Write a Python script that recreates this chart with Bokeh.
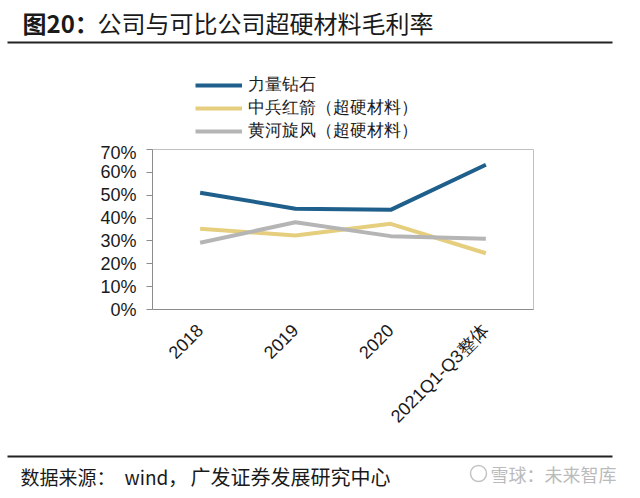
import math
from bokeh.plotting import figure
from bokeh.models import (Range1d, FactorRange, NumeralTickFormatter, FixedTicker,
                          Legend, LegendItem, ColumnDataSource)
from bokeh.layouts import column
from bokeh.core.properties import value
from bokeh.embed import file_html
from bokeh.resources import INLINE

# ---------------- data ----------------
categories = ["2018", "2019", "2020", "2021Q1-Q3整体"]
series_names = ["力量钻石", "中兵红箭（超硬材料）", "黄河旋风（超硬材料）"]
liliang = [0.511, 0.441, 0.436, 0.633]
zhongbing = [0.353, 0.324, 0.375, 0.246]
huanghe = [0.292, 0.382, 0.321, 0.309]
y_ticks = [0.0, 0.1, 0.2, 0.3, 0.4, 0.5, 0.6, 0.7]

title_bold = "图20："
title_rest = "公司与可比公司超硬材料毛利率"
source_a = "数据来源："
source_w = "wind，"
source_b = "广发证券发展研究中心"
watermark = "雪球：未来智库"

colors = ["#1F5F8B", "#E5CF7E", "#B5B5B5"]
CJK = "Noto Sans CJK SC"
LAT = "Liberation Sans"
W = 640


def no_align(fig):
    try:
        fig.frame_align = False
    except Exception:
        pass


def blank(h):
    f = figure(width=W, height=h, x_range=Range1d(0, W), y_range=Range1d(h, 0),
               output_backend="svg", toolbar_location=None, min_border=0,
               x_axis_type=None, y_axis_type=None, outline_line_color=None)
    f.grid.visible = False
    no_align(f)
    return f


# ---------------- header: title, rule, legend ----------------
HH = 142
hdr = blank(HH)
hdr.text(x=[22], y=[22], text=[title_bold], text_font=value(CJK), text_font_style="bold",
         text_font_size="24px", text_baseline="middle", text_align="left", text_color="#1a1a1a")
hdr.text(x=[97], y=[22], text=[title_rest], text_font=value(CJK),
         text_font_size="24px", text_baseline="middle", text_align="left", text_color="#1a1a1a")
hdr.segment(x0=[7], y0=[42], x1=[612], y1=[42], line_color="#222222", line_width=2)

# legend proxies (kept outside the visible range, only their style is used by the legend)
proxies = [hdr.line(x=[-200, -150], y=[-200, -200], line_color=c, line_width=4) for c in colors]
legend = Legend(items=[LegendItem(label=n, renderers=[r]) for n, r in zip(series_names, proxies)],
                location=(195, 0), orientation="vertical",
                background_fill_alpha=0, border_line_color=None,
                glyph_width=47, glyph_height=20, label_height=20, spacing=0,
                padding=0, margin=0, label_standoff=6,
                label_text_font=LAT, label_text_font_size="17px", label_text_color="#1a1a1a")
hdr.add_layout(legend)

# ---------------- chart ----------------
CH = 308
src = ColumnDataSource(dict(cat=categories, a=liliang, b=zhongbing, c=huanghe))
p = figure(width=W, height=CH, x_range=FactorRange(*categories), y_range=Range1d(0, 0.7),
           output_backend="svg", toolbar_location=None,
           min_border_left=152, min_border_right=107, min_border_top=7, min_border_bottom=141)
no_align(p)
p.grid.visible = False
p.outline_line_color = "#C0C0C0"
p.outline_line_width = 1

p.line("cat", "a", source=src, line_color=colors[0], line_width=4)
p.line("cat", "b", source=src, line_color=colors[1], line_width=4)
p.line("cat", "c", source=src, line_color=colors[2], line_width=4)

p.yaxis.ticker = FixedTicker(ticks=y_ticks)
p.yaxis.formatter = NumeralTickFormatter(format="0%")
p.yaxis.major_label_text_font = LAT
p.yaxis.major_label_text_font_size = "18px"
p.yaxis.major_label_text_color = "#1a1a1a"
p.yaxis.major_tick_out = 6
p.yaxis.major_tick_in = 0
p.yaxis.minor_tick_out = 0
p.yaxis.minor_tick_in = 0
p.yaxis.major_label_standoff = 10
p.yaxis.axis_line_color = "#8C8C8C"
p.yaxis.major_tick_line_color = "#8C8C8C"

p.xaxis.major_label_orientation = math.pi / 4
p.xaxis.major_label_text_font = LAT
p.xaxis.major_label_text_font_size = "18px"
p.xaxis.major_label_text_color = "#1a1a1a"
p.xaxis.major_tick_out = 0
p.xaxis.major_tick_in = 0
p.xaxis.major_label_standoff = 18
p.xaxis.axis_line_color = "#8C8C8C"

# ---------------- footer ----------------
FH = 48
ftr = blank(FH)
ftr.segment(x0=[7], y0=[6], x1=[612], y1=[6], line_color="#222222", line_width=2)
ftr.text(x=[20], y=[26], text=[source_a], text_font=value(CJK), text_font_size="19px",
         text_baseline="middle", text_align="left", text_color="#1a1a1a")
ftr.text(x=[124], y=[26], text=[source_w], text_font=value(CJK), text_font_size="19px",
         text_baseline="middle", text_align="left", text_color="#1a1a1a")
ftr.text(x=[190], y=[26], text=[source_b], text_font=value(CJK), text_font_size="20px",
         text_baseline="middle", text_align="left", text_color="#1a1a1a")
ftr.scatter(x=[478], y=[23], marker="circle", size=16, fill_color=None,
            line_color="#C4C4C4", line_width=1.5)
ftr.text(x=[490], y=[23], text=[watermark], text_font=value(CJK), text_font_size="18px",
         text_baseline="middle", text_align="left", text_color="#BBBBBB")

layout = column(hdr, p, ftr, spacing=0)
open("out.html", "w").write(file_html(layout, INLINE))
